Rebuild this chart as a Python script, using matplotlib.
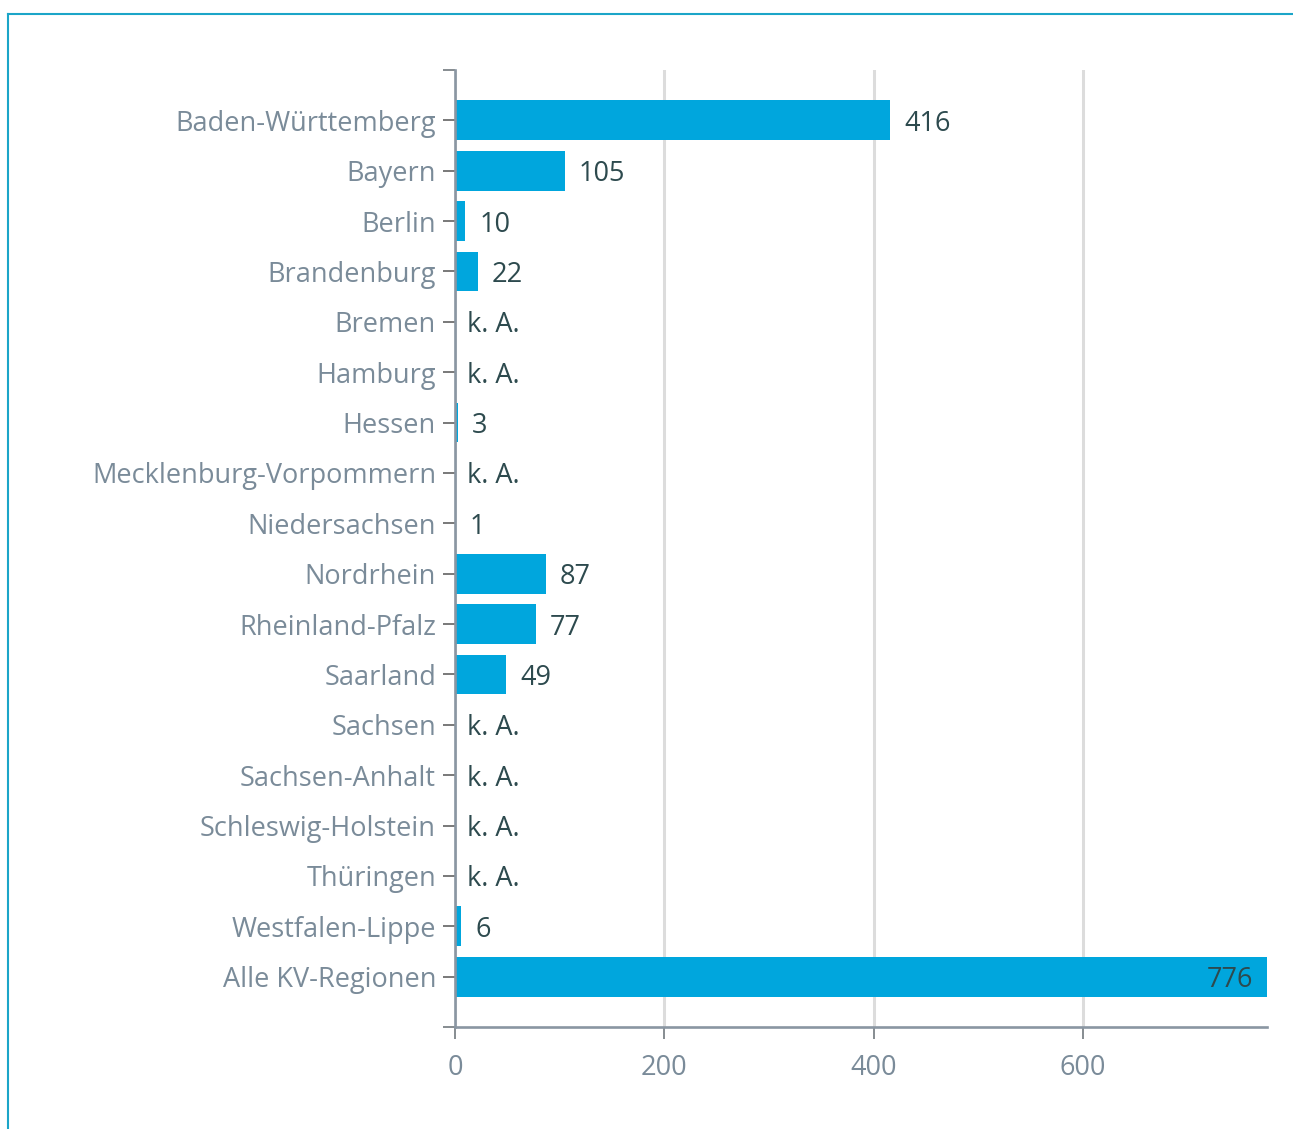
import numpy as np
import matplotlib.pyplot as plt
from matplotlib.lines import Line2D
from matplotlib.ticker import FixedLocator

plt.rcParams['font.family'] = ['Open Sans', 'DejaVu Sans']

regions = ['Baden-Württemberg', 'Bayern', 'Berlin', 'Brandenburg', 'Bremen',
           'Hamburg', 'Hessen', 'Mecklenburg-Vorpommern', 'Niedersachsen',
           'Nordrhein', 'Rheinland-Pfalz', 'Saarland', 'Sachsen',
           'Sachsen-Anhalt', 'Schleswig-Holstein', 'Thüringen',
           'Westfalen-Lippe', 'Alle KV-Regionen']
values = [416, 105, 10, 22, None, None, 3, None, 1, 87, 77, 49,
          None, None, None, None, 6, 776]
x_ticks = [0, 200, 400, 600]

bar_color = '#00a6dd'
label_color = '#7a8b99'
value_color = '#2d4a4e'
axis_color = '#8a96a2'

fig = plt.figure(figsize=(12.93, 11.29), dpi=100)
ax = fig.add_axes([455 / 1293, 1 - 1027 / 1129, (1267 - 455) / 1293, (1027 - 70) / 1129])

y = np.arange(len(regions))
vals = [v if v is not None else 0 for v in values]
ax.barh(y, vals, height=0.79, color=bar_color, zorder=3)

xmax = max(vals)
ax.set_xlim(0, xmax)
ax.set_ylim(len(regions), -1)

# value labels
px = xmax / (1267 - 455)
for yi, v in zip(y, values):
    if v is None:
        ax.text(12 * px, yi, 'k. A.', va='center_baseline', ha='left', fontsize=19.5,
                color=value_color, zorder=4)
    elif v == xmax:
        ax.text(v - 14 * px, yi, str(v), va='center_baseline', ha='right', fontsize=19.5,
                color=value_color, zorder=4)
    else:
        ax.text(v + 14 * px, yi, str(v), va='center_baseline', ha='left', fontsize=19.5,
                color=value_color, zorder=4)

ax.set_yticks(y)
ax.set_yticklabels(regions, fontsize=19.5, color=label_color, va='center_baseline')
ax.yaxis.set_minor_locator(FixedLocator([-1, len(regions)]))
ax.tick_params(axis='y', which='both', length=8.6, width=1.1, color='#666d73', pad=5)
ax.tick_params(axis='y', which='major', color='#555555')
ax.set_xticks(x_ticks)
ax.set_xticklabels([str(t) for t in x_ticks], fontsize=19.5, color=label_color)
ax.tick_params(axis='x', length=8.6, width=1.1, color='#666d73', pad=10.5)

ax.grid(axis='x', color='#dcdcdc', linewidth=2.2, zorder=0)
ax.set_axisbelow(True)

for s in ['top', 'right']:
    ax.spines[s].set_visible(False)
for s in ['left', 'bottom']:
    ax.spines[s].set_color(axis_color)
    ax.spines[s].set_linewidth(1.9)
    ax.spines[s].set_zorder(5)

# outer frame lines (top and left)
fig.add_artist(Line2D([8 / 1293, 1], [1 - 14 / 1129] * 2, color='#1ba5c8', linewidth=1.5,
                      transform=fig.transFigure))
fig.add_artist(Line2D([8 / 1293] * 2, [0, 1 - 14 / 1129], color='#1ba5c8', linewidth=1.5,
                      transform=fig.transFigure))

fig.savefig('out.png', dpi=100, facecolor='white')
